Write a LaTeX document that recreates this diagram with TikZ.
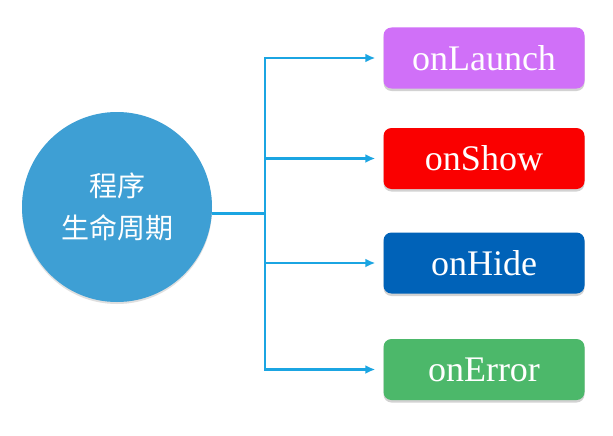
\documentclass[tikz,border=0pt]{standalone}
\usepackage{fontspec}
\setmainfont{Liberation Serif}
\newfontfamily\cjk{Noto Sans CJK SC}
\usetikzlibrary{arrows.meta,shadows}
\definecolor{circblue}{HTML}{3E9FD4}
\definecolor{linkblue}{HTML}{1BA5E2}
\definecolor{cpurple}{HTML}{D070F8}
\definecolor{cred}{HTML}{FA0000}
\definecolor{cblue}{HTML}{0062B8}
\definecolor{cgreen}{HTML}{4CB86A}
\tikzset{
  evbox/.style={rounded corners=8pt, minimum width=201pt, minimum height=61pt,
    text=white, font=\fontsize{36}{40}\selectfont, inner sep=0pt,
    drop shadow={opacity=0.35, shadow xshift=0pt, shadow yshift=-2.5pt}},
  link/.style={draw=linkblue, line width=2.5pt},
  arr/.style={link, -{Latex[length=10pt,width=9pt]}, shorten >=8pt}
}
\begin{document}
\begin{tikzpicture}[x=1pt,y=-1pt]
\useasboundingbox (0,0) rectangle (613,436);
\fill[white] (0,0) rectangle (613,436);
\node[circle, fill=circblue, minimum size=190pt, inner sep=0pt, text=white,
  align=center, font=\cjk\fontsize{28}{42}\selectfont,
  drop shadow={opacity=0.25, shadow xshift=0pt, shadow yshift=-2pt}] (circ) at (117,207) {程序\\生命周期};
\node[evbox, fill=cpurple] (b1) at (484,58) {onLaunch};
\node[evbox, fill=cred] (b2) at (484,158.5) {onShow};
\node[evbox, fill=cblue] (b3) at (484,263) {onHide};
\node[evbox, fill=cgreen] (b4) at (484,369.5) {onError};
\coordinate (jt) at (265,58);
\coordinate (jb) at (265,369.5);
\coordinate (j) at (circ.-4 -| jt);
\draw[link] (circ.-4) -- (j);
\draw[link] (jt) -- (jb);
\draw[arr] (j) |- (b1.west);
\draw[arr] (j) |- (b2.west);
\draw[arr] (j) |- (b3.west);
\draw[arr] (j) |- (b4.west);
\end{tikzpicture}
\end{document}
